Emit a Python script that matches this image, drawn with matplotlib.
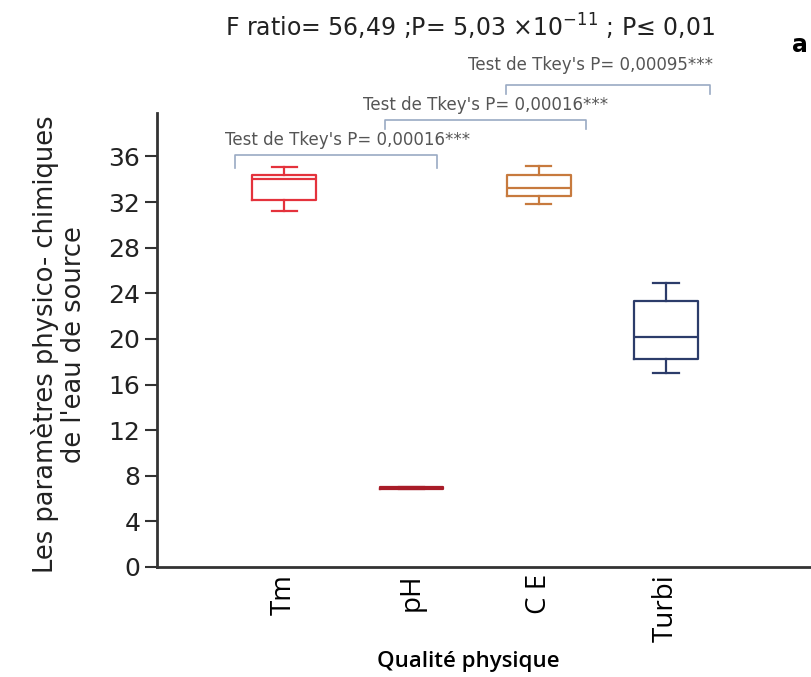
import matplotlib.pyplot as plt

# values
categories = ['Tm', 'pH', 'C E', 'Turbi']
whis_low = [31.2, 6.8, 31.8, 17.0]
q1 = [32.2, 6.85, 32.5, 18.2]
medians = [34.0, 6.9, 33.2, 20.2]
q3 = [34.4, 7.0, 34.4, 23.3]
whis_high = [35.1, 7.05, 35.2, 24.9]
colors = ['#e4323c', '#a81c28', '#c77a3e', '#2c3c6a']

# Tukey brackets
bracket_x0 = [0.61, 1.79, 2.74]
bracket_x1 = [2.20, 3.37, 4.35]
bracket_y = [36.1, 39.2, 42.3]
bracket_drop = [1.1, 0.8, 0.8]
label_x = [1.50, 2.58, 3.41]
label_y = [37.4, 40.5, 44.0]
bracket_labels = ["Test de Tkey's P= 0,00016***",
                  "Test de Tkey's P= 0,00016***",
                  "Test de Tkey's P= 0,00095***"]

plt.rcParams['font.family'] = ['DejaVu Sans']

fig = plt.figure(figsize=(8.11, 6.77), dpi=100)
ax = fig.add_axes([0.1936, 0.1625, 0.8064, 0.6705])

positions = list(range(1, len(categories) + 1))
for i, pos in enumerate(positions):
    stats = [{'med': medians[i], 'q1': q1[i], 'q3': q3[i],
              'whislo': whis_low[i], 'whishi': whis_high[i], 'fliers': []}]
    c = colors[i]
    ax.bxp(stats, positions=[pos], widths=0.5, capwidths=0.2,
           boxprops=dict(color=c, linewidth=1.6),
           whiskerprops=dict(color=c, linewidth=1.6),
           capprops=dict(color=c, linewidth=1.6),
           medianprops=dict(color=c, linewidth=1.6),
           showfliers=False, manage_ticks=False)

ax.set_xlim(0, 5.14)
ax.set_ylim(0, 39.8)
ax.set_yticks(range(0, 37, 4))
ax.set_xticks(positions)
ax.set_xticklabels(categories, rotation=90, fontsize=20, family=['Open Sans', 'DejaVu Sans'])
ax.tick_params(axis='x', length=0, pad=5)
ax.tick_params(axis='y', labelsize=18, length=9, width=1.5, pad=3, color='#333333',
               labelcolor='#222222')

for side in ['top', 'right']:
    ax.spines[side].set_visible(False)
for side in ['left', 'bottom']:
    ax.spines[side].set_linewidth(2)
    ax.spines[side].set_color('#333333')

ax.set_ylabel("Les paramètres physico- chimiques\nde l'eau de source", fontsize=18.5,
              color='#222222', linespacing=1.1)
ax.yaxis.set_label_coords(-0.107, 0.49)
ax.set_xlabel('Qualité physique', fontsize=16, fontweight='semibold',
              family=['Open Sans', 'DejaVu Sans'])
ax.xaxis.set_label_coords(0.476, -0.185)

for x0, x1, y, d, tx, ty, lab in zip(bracket_x0, bracket_x1, bracket_y, bracket_drop,
                                     label_x, label_y, bracket_labels):
    ax.plot([x0, x0, x1, x1], [y - d, y, y, y - d], color='#9aaac4',
            linewidth=1.2, clip_on=False)
    ax.text(tx, ty, lab, fontsize=12, color='#555555',
            ha='center', va='center', clip_on=False)

fig.text(0.58, 0.96, r'F ratio= 56,49 ;P= 5,03 ×10$^{-11}$ ; P≤ 0,01',
         fontsize=17, ha='center', va='center', color='#222222')
fig.text(0.986, 0.933, 'a', fontsize=17, fontweight='bold', ha='center', va='center')

fig.savefig('out.png', dpi=100)
